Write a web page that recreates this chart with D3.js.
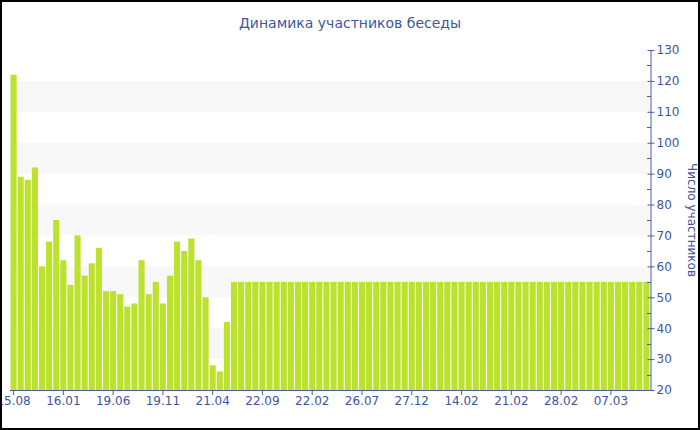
<!DOCTYPE html>
<html>
<head>
<meta charset="utf-8">
<script src="https://cdn.jsdelivr.net/npm/d3@7"></script>
<style>
  body { margin: 0; background: #fff; }
  svg text { font-family: "DejaVu Sans", Verdana, sans-serif; }
</style>
</head>
<body>
<svg class="canvas" width="700" height="430"></svg>
<script>
// participants per period
var values = [122, 89, 88, 92, 60, 68, 75, 62, 54, 70, 57, 61, 66, 52, 52, 51, 47, 48, 62, 51,
              55, 48, 57, 68, 65, 69, 62, 50, 28, 26, 42, 55,
              55, 55, 55, 55, 55, 55, 55, 55, 55, 55, 55, 55, 55, 55, 55, 55, 55, 55,
              55, 55, 55, 55, 55, 55, 55, 55, 55, 55, 55, 55, 55, 55, 55, 55, 55, 55,
              55, 55, 55, 55, 55, 55, 55, 55, 55, 55, 55, 55, 55, 55, 55, 55, 55, 55,
              55, 55, 55, 55];
// a label every 7th bar
var tickLabels = ["15.08", "16.01", "19.06", "19.11", "21.04", "22.09", "22.02",
                  "26.07", "27.12", "14.02", "21.02", "28.02", "07.03"];
var yTicks = [20, 30, 40, 50, 60, 70, 80, 90, 100, 110, 120, 130];

var title = "Динамика участников беседы";
var yTitle = "Число участников";

var width = 700, height = 430;
var plotLeft = 10, plotRight = 650, plotTop = 50, plotBottom = 390;
var axisColor = "#4a5da0", textColor = "#3d55a0";

var svg = d3.select(".canvas");

var x = d3.scaleBand()
    .domain(d3.range(values.length))
    .range([plotLeft, plotRight])
    .paddingInner(0.14)
    .paddingOuter(0.07);

var y = d3.scaleLinear().domain([20, 130]).range([plotBottom, plotTop]);

// alternate bands
var bands = [30, 50, 70, 90, 110];
svg.selectAll(".band")
    .data(bands)
    .enter()
    .append("rect")
        .attr("x", plotLeft)
        .attr("width", plotRight - plotLeft)
        .attr("y", function(d) { return y(d + 10); })
        .attr("height", function(d) { return y(d) - y(d + 10); })
        .style("fill", "#f8f8f8");

svg.selectAll(".bar")
    .data(values)
    .enter()
    .append("rect")
        .attr("x", function(d, i) { return x(i); })
        .attr("width", x.bandwidth())
        .attr("y", function(d) { return y(d); })
        .attr("height", function(d) { return plotBottom - y(d); })
        .style("fill", "#bde22e");

// x axis
var xAxis = svg.append("g")
    .attr("transform", "translate(0," + plotBottom + ")")
    .call(d3.axisBottom(x)
        .tickValues(d3.range(0, values.length, 7))
        .tickFormat(function(d) { return tickLabels[d / 7]; })
        .tickSize(5)
        .tickSizeOuter(0));
xAxis.select(".domain").attr("d", "M" + plotLeft + ",0.5H" + plotRight).style("stroke", axisColor);
xAxis.selectAll(".tick line").style("stroke", axisColor);
xAxis.selectAll("text")
    .attr("dy", "0.71em")
    .attr("y", 6)
    .style("font-size", "12px")
    .style("fill", textColor);

// y axis on the right
var yAxis = svg.append("g")
    .attr("transform", "translate(" + (plotRight + 0.5) + ",0)")
    .call(d3.axisRight(y).tickValues(yTicks).tickSize(4).tickSizeOuter(0).tickPadding(2));
yAxis.select(".domain").style("stroke", axisColor);
yAxis.selectAll(".tick line").attr("x1", -3).style("stroke", axisColor);
yAxis.selectAll("text").style("font-size", "12px").style("fill", textColor);

// minor ticks
svg.selectAll(".minor")
    .data(d3.range(25, 130, 10))
    .enter()
    .append("line")
        .attr("x1", plotRight - 3)
        .attr("x2", plotRight + 1)
        .attr("y1", function(d) { return Math.round(y(d)) + 0.5; })
        .attr("y2", function(d) { return Math.round(y(d)) + 0.5; })
        .style("stroke", axisColor);

svg.append("text")
    .attr("transform", "translate(688," + ((plotTop + plotBottom) / 2) + ") rotate(90)")
    .attr("text-anchor", "middle")
    .style("font-size", "12px")
    .style("fill", textColor)
    .text(yTitle);

svg.append("text")
    .attr("x", 350)
    .attr("y", 28)
    .attr("text-anchor", "middle")
    .style("font-size", "14px")
    .style("fill", textColor)
    .text(title);

// frame
svg.append("rect")
    .attr("x", 1).attr("y", 1)
    .attr("width", width - 2).attr("height", height - 2)
    .style("fill", "none")
    .style("stroke", "#000")
    .attr("stroke-width", 2);
</script>
</body>
</html>
